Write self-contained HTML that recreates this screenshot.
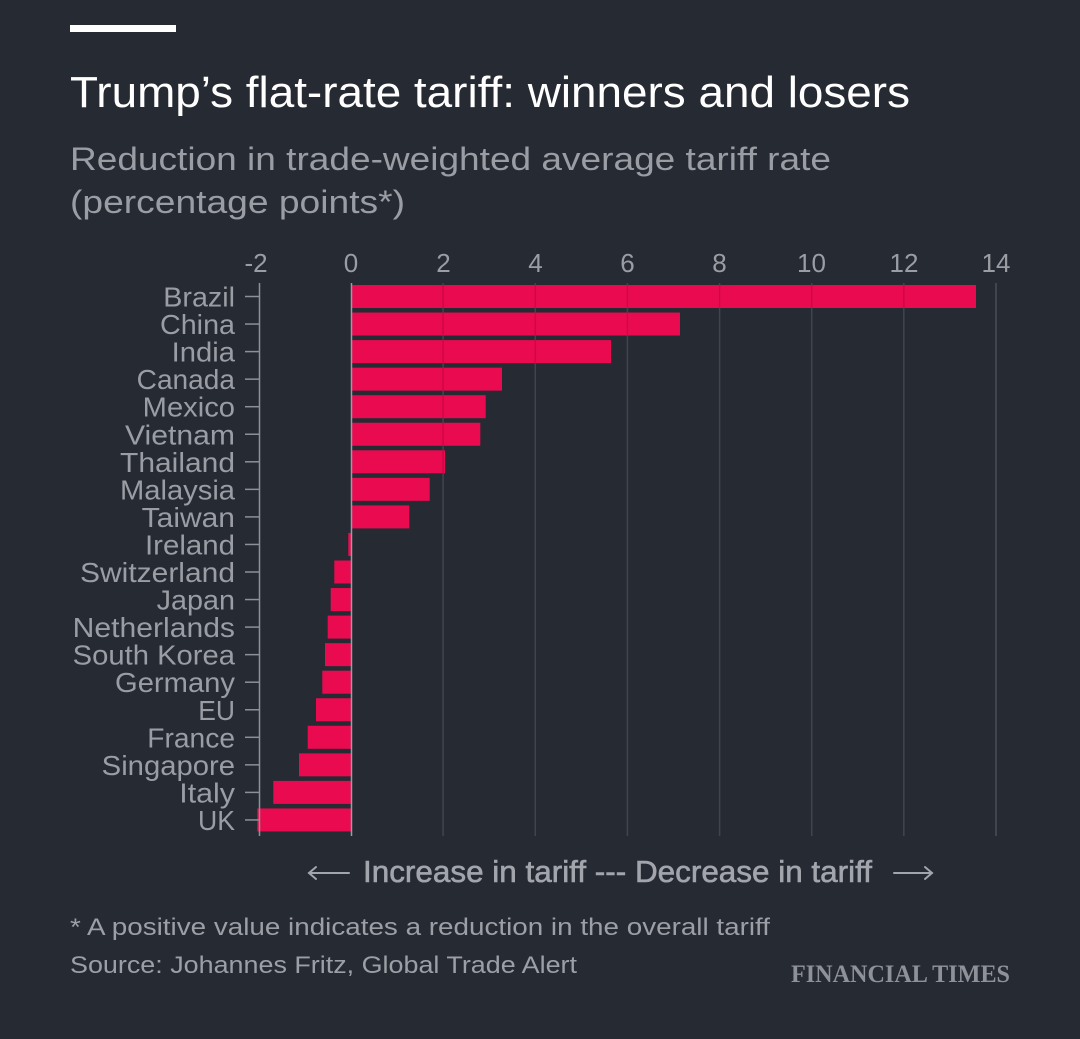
<!DOCTYPE html>
<html>
<head>
<meta charset="utf-8">
<style>
  html, body { margin: 0; padding: 0; background: #262a33; }
  svg { display: block; }
  text { font-family: "Liberation Sans", sans-serif; }
  text.serif { font-family: "Liberation Serif", serif; }
</style>
</head>
<body>
<svg width="1080" height="1039" viewBox="0 0 1080 1039" xmlns="http://www.w3.org/2000/svg">
  <rect x="0" y="0" width="1080" height="1039" fill="#262a33"/>
  <!-- top bar -->
  <rect x="70" y="25" width="106" height="7" fill="#ffffff"/>
  <!-- title -->
  <text x="70" y="107" font-size="44" fill="#ffffff" textLength="840" lengthAdjust="spacingAndGlyphs">Trump’s flat-rate tariff: winners and losers</text>
  <text x="70" y="170" font-size="32" fill="#9b9da4" textLength="761" lengthAdjust="spacingAndGlyphs">Reduction in trade-weighted average tariff rate</text>
  <text x="70" y="213" font-size="32" fill="#9b9da4" textLength="335" lengthAdjust="spacingAndGlyphs">(percentage points*)</text>

  <!-- tick labels -->
  <g font-size="26" fill="#9b9da4" text-anchor="middle">
    <text x="256" y="272">-2</text>
    <text x="351" y="272">0</text>
    <text x="443.5" y="272">2</text>
    <text x="535.5" y="272">4</text>
    <text x="627.5" y="272">6</text>
    <text x="719.5" y="272">8</text>
    <text x="811.5" y="272">10</text>
    <text x="904" y="272">12</text>
    <text x="996" y="272">14</text>
  </g>

  <!-- gridlines -->
  <g stroke="#4a4e57" stroke-width="1.5">
    <line x1="443.1" y1="283" x2="443.1" y2="836"/>
    <line x1="535.3" y1="283" x2="535.3" y2="836"/>
    <line x1="627.4" y1="283" x2="627.4" y2="836"/>
    <line x1="719.6" y1="283" x2="719.6" y2="836"/>
    <line x1="811.7" y1="283" x2="811.7" y2="836"/>
    <line x1="903.8" y1="283" x2="903.8" y2="836"/>
    <line x1="996" y1="283" x2="996" y2="836"/>
  </g>

  <!-- bars -->
  <g fill="#ea0a4f">
    <rect x="351" y="285" width="625" height="23"/>
    <rect x="351" y="312.55" width="329" height="23"/>
    <rect x="351" y="340.1" width="260" height="23"/>
    <rect x="351" y="367.65" width="151" height="23"/>
    <rect x="351" y="395.2" width="134.7" height="23"/>
    <rect x="351" y="422.75" width="129.3" height="23"/>
    <rect x="351" y="450.3" width="94" height="23"/>
    <rect x="351" y="477.85" width="78.7" height="23"/>
    <rect x="351" y="505.4" width="58.3" height="23"/>
    <rect x="348.3" y="532.95" width="2.7" height="23"/>
    <rect x="334.3" y="560.5" width="16.7" height="23"/>
    <rect x="330.7" y="588.05" width="20.3" height="23"/>
    <rect x="327.7" y="615.6" width="23.3" height="23"/>
    <rect x="325" y="643.15" width="26" height="23"/>
    <rect x="322.3" y="670.7" width="28.7" height="23"/>
    <rect x="316" y="698.25" width="35" height="23"/>
    <rect x="307.7" y="725.8" width="43.3" height="23"/>
    <rect x="299" y="753.35" width="52" height="23"/>
    <rect x="273.3" y="780.9" width="77.7" height="23"/>
    <rect x="257.3" y="808.45" width="93.7" height="23"/>
  </g>

  <!-- gridline overlay on bars -->
  <g stroke="rgba(0,0,0,0.12)" stroke-width="1.5">
    <line x1="443.1" y1="283" x2="443.1" y2="836"/>
    <line x1="535.3" y1="283" x2="535.3" y2="836"/>
    <line x1="627.4" y1="283" x2="627.4" y2="836"/>
    <line x1="719.6" y1="283" x2="719.6" y2="836"/>
    <line x1="811.7" y1="283" x2="811.7" y2="836"/>
    <line x1="903.8" y1="283" x2="903.8" y2="836"/>
  </g>

  <!-- zero line and left axis -->
  <line x1="351.5" y1="283" x2="351.5" y2="836" stroke="#9a9ca3" stroke-width="1.5"/>
  <line x1="259.5" y1="283" x2="259.5" y2="836" stroke="#8d9097" stroke-width="1.5"/>

  <!-- y ticks -->
  <g stroke="#8d9097" stroke-width="1.5">
    <line x1="245" y1="296.5" x2="259" y2="296.5"/>
    <line x1="245" y1="324.05" x2="259" y2="324.05"/>
    <line x1="245" y1="351.6" x2="259" y2="351.6"/>
    <line x1="245" y1="379.15" x2="259" y2="379.15"/>
    <line x1="245" y1="406.7" x2="259" y2="406.7"/>
    <line x1="245" y1="434.25" x2="259" y2="434.25"/>
    <line x1="245" y1="461.8" x2="259" y2="461.8"/>
    <line x1="245" y1="489.35" x2="259" y2="489.35"/>
    <line x1="245" y1="516.9" x2="259" y2="516.9"/>
    <line x1="245" y1="544.45" x2="259" y2="544.45"/>
    <line x1="245" y1="572" x2="259" y2="572"/>
    <line x1="245" y1="599.55" x2="259" y2="599.55"/>
    <line x1="245" y1="627.1" x2="259" y2="627.1"/>
    <line x1="245" y1="654.65" x2="259" y2="654.65"/>
    <line x1="245" y1="682.2" x2="259" y2="682.2"/>
    <line x1="245" y1="709.75" x2="259" y2="709.75"/>
    <line x1="245" y1="737.3" x2="259" y2="737.3"/>
    <line x1="245" y1="764.85" x2="259" y2="764.85"/>
    <line x1="245" y1="792.4" x2="259" y2="792.4"/>
    <line x1="245" y1="819.95" x2="259" y2="819.95"/>
  </g>

  <!-- country labels -->
  <g font-size="28" fill="#9b9da4">
    <text x="163.3" y="306.5" textLength="71.7" lengthAdjust="spacingAndGlyphs">Brazil</text>
    <text x="160" y="334.05" textLength="75" lengthAdjust="spacingAndGlyphs">China</text>
    <text x="171.7" y="361.6" textLength="63.3" lengthAdjust="spacingAndGlyphs">India</text>
    <text x="136.7" y="389.15" textLength="98.3" lengthAdjust="spacingAndGlyphs">Canada</text>
    <text x="142.7" y="416.7" textLength="92.3" lengthAdjust="spacingAndGlyphs">Mexico</text>
    <text x="125" y="444.25" textLength="110" lengthAdjust="spacingAndGlyphs">Vietnam</text>
    <text x="120" y="471.8" textLength="115" lengthAdjust="spacingAndGlyphs">Thailand</text>
    <text x="120" y="499.35" textLength="115" lengthAdjust="spacingAndGlyphs">Malaysia</text>
    <text x="141.7" y="526.9" textLength="93.3" lengthAdjust="spacingAndGlyphs">Taiwan</text>
    <text x="145" y="554.45" textLength="90" lengthAdjust="spacingAndGlyphs">Ireland</text>
    <text x="80" y="582" textLength="155" lengthAdjust="spacingAndGlyphs">Switzerland</text>
    <text x="156.7" y="609.55" textLength="78.3" lengthAdjust="spacingAndGlyphs">Japan</text>
    <text x="72.7" y="637.1" textLength="162.3" lengthAdjust="spacingAndGlyphs">Netherlands</text>
    <text x="72.7" y="664.65" textLength="162.3" lengthAdjust="spacingAndGlyphs">South Korea</text>
    <text x="115" y="692.2" textLength="120" lengthAdjust="spacingAndGlyphs">Germany</text>
    <text x="198.3" y="719.75" textLength="36.7" lengthAdjust="spacingAndGlyphs">EU</text>
    <text x="147.3" y="747.3" textLength="87.7" lengthAdjust="spacingAndGlyphs">France</text>
    <text x="101.7" y="774.85" textLength="133.3" lengthAdjust="spacingAndGlyphs">Singapore</text>
    <text x="179.3" y="802.4" textLength="55.7" lengthAdjust="spacingAndGlyphs">Italy</text>
    <text x="198" y="829.95" textLength="37" lengthAdjust="spacingAndGlyphs">UK</text>
  </g>

  <!-- direction annotation -->
  <g stroke="#a3a5ac" stroke-width="2" fill="none" stroke-linecap="round">
    <line x1="309" y1="873" x2="349" y2="873"/>
    <polyline points="316,867 309,873 316,879"/>
    <line x1="894" y1="873" x2="932" y2="873"/>
    <polyline points="925,867 932,873 925,879"/>
  </g>
  <text x="363" y="882" font-size="31" fill="#a3a5ac" stroke="#a3a5ac" stroke-width="0.6" textLength="509" lengthAdjust="spacingAndGlyphs">Increase in tariff --- Decrease in tariff</text>

  <!-- footnotes -->
  <text x="70" y="935" font-size="24" fill="#9d9fa6" textLength="700" lengthAdjust="spacingAndGlyphs">* A positive value indicates a reduction in the overall tariff</text>
  <text x="70" y="973" font-size="24" fill="#9d9fa6" textLength="507" lengthAdjust="spacingAndGlyphs">Source: Johannes Fritz, Global Trade Alert</text>
  <text class="serif" x="791" y="982" style="font-family: 'Liberation Serif', serif; font-weight: bold;" font-size="25" fill="#8f9199" textLength="219" lengthAdjust="spacingAndGlyphs">FINANCIAL TIMES</text>
</svg>
</body>
</html>
